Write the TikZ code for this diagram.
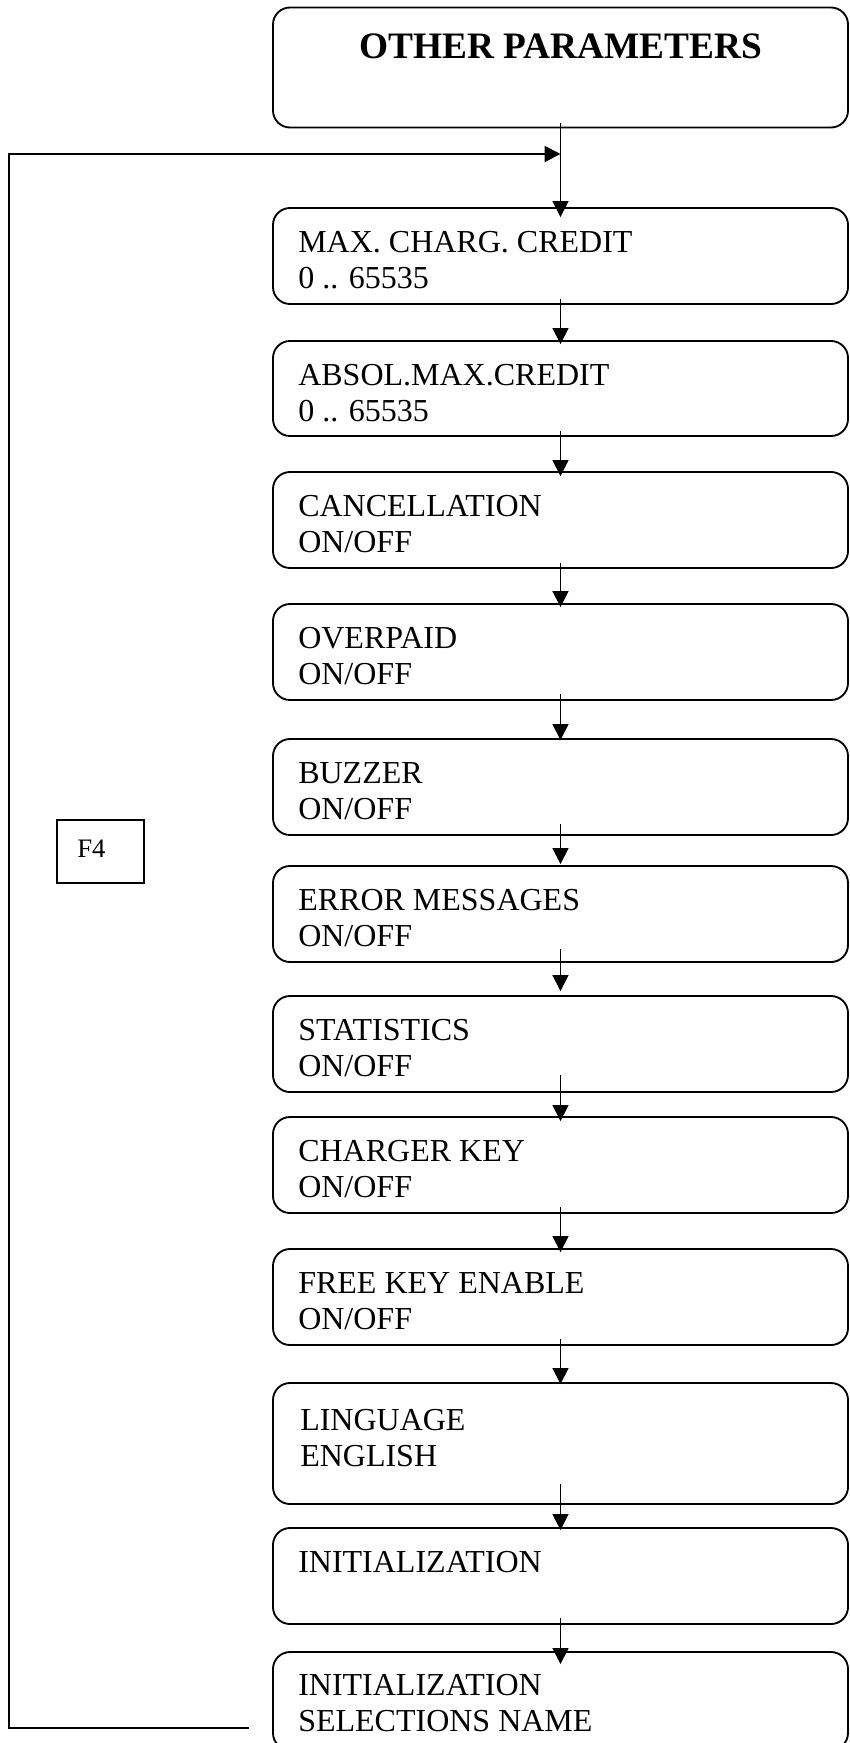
\documentclass[tikz,border=0pt]{standalone}
\usepackage{fontspec}
\setmainfont{Liberation Serif}
\usetikzlibrary{arrows.meta,calc}

\begin{document}
\begin{tikzpicture}[x=0.75pt,y=-0.75pt,
  pbox/.style={draw, line width=1.4pt, rounded corners=12.75pt,
    minimum width=431.25pt, minimum height=72pt, inner sep=0pt},
  txt/.style={anchor=base west, inner sep=0pt, font=\fontsize{24}{27}\selectfont},
  keybox/.style={draw, line width=1.5pt, minimum width=65.25pt, minimum height=47.25pt, inner sep=0pt},
  arr/.style={line width=1pt, -{Triangle[length=12pt,width=12pt]}},
  loopline/.style={line width=1.5pt, -{Triangle[length=12pt,width=12pt]}}
]
\useasboundingbox (0,0) rectangle (850,1743);

% menu boxes
\node[pbox, minimum height=90pt]    (b1)  at (560.5,67.5)  {};
\node[pbox]                          (b2)  at (560.5,256)   {};
\node[pbox, minimum height=71.25pt] (b3)  at (560.5,388.5) {};
\node[pbox]                          (b4)  at (560.5,520)   {};
\node[pbox]                          (b5)  at (560.5,652)   {};
\node[pbox]                          (b6)  at (560.5,787)   {};
\node[pbox]                          (b7)  at (560.5,914)   {};
\node[pbox]                          (b8)  at (560.5,1044)  {};
\node[pbox]                          (b9)  at (560.5,1165)  {};
\node[pbox]                          (b10) at (560.5,1297)  {};
\node[pbox, minimum height=90.75pt] (b11) at (560.5,1443.5) {};
\node[pbox]                          (b12) at (560.5,1576)  {};
\node[pbox, minimum height=73.5pt]  (b13) at (560.5,1701)  {};

% texts
\node[anchor=base, inner sep=0pt, font=\bfseries\fontsize{28}{32}\selectfont] (t1) at (560.5,58) {OTHER PARAMETERS};
\node[txt] (t2a)  at (298,252)  {MAX. CHARG. CREDIT};
\node[txt] (t2b)  at (298,288)  {0 .. 65535};
\node[txt] (t3a)  at (298,385)  {ABSOL.MAX.CREDIT};
\node[txt] (t3b)  at (298,421)  {0 .. 65535};
\node[txt] (t4a)  at (298,516)  {CANCELLATION};
\node[txt] (t4b)  at (298,552)  {ON/OFF};
\node[txt] (t5a)  at (298,648)  {OVERPAID};
\node[txt] (t5b)  at (298,684)  {ON/OFF};
\node[txt] (t6a)  at (298,783)  {BUZZER};
\node[txt] (t6b)  at (298,819)  {ON/OFF};
\node[txt] (t7a)  at (298,910)  {ERROR MESSAGES};
\node[txt] (t7b)  at (298,946)  {ON/OFF};
\node[txt] (t8a)  at (298,1040) {STATISTICS};
\node[txt] (t8b)  at (298,1076) {ON/OFF};
\node[txt] (t9a)  at (298,1161) {CHARGER KEY};
\node[txt] (t9b)  at (298,1197) {ON/OFF};
\node[txt] (t10a) at (298,1293) {FREE KEY ENABLE};
\node[txt] (t10b) at (298,1329) {ON/OFF};
\node[txt] (t11a) at (300,1430) {LINGUAGE};
\node[txt] (t11b) at (300,1466) {ENGLISH};
\node[txt] (t12a) at (298,1572) {INITIALIZATION};
\node[txt] (t13a) at (298,1695) {INITIALIZATION};
\node[txt] (t13b) at (298,1731) {SELECTIONS NAME};

% key box on the return path
\node[keybox] (f4) at (100.5,851) {};
\node[anchor=base west, inner sep=0pt, font=\fontsize{20}{24}\selectfont] (f4t) at (77,857) {F4};

% downward arrows
\draw[arr] ($(b1.south)+(0,-5.5)$) -- ($(b2.north)+(0,10)$);
\draw[arr] ($(b2.south)+(0,-6)$)   -- ($(b3.north)+(0,4)$);
\draw[arr] ($(b3.south)+(0,-6)$)   -- ($(b4.north)+(0,5)$);
\draw[arr] ($(b4.south)+(0,-6)$)   -- ($(b5.north)+(0,4)$);
\draw[arr] ($(b5.south)+(0,-7)$)   -- ($(b6.north)+(0,2)$);
\draw[arr] ($(b6.south)+(0,-12)$)  -- ($(b7.north)+(0,-1)$);
\draw[arr] ($(b7.south)+(0,-14)$)  -- ($(b8.north)+(0,-4)$);
\draw[arr] ($(b8.south)+(0,-18)$)  -- ($(b9.north)+(0,5)$);
\draw[arr] ($(b9.south)+(0,-7)$)   -- ($(b10.north)+(0,4)$);
\draw[arr] ($(b10.south)+(0,-7)$)  -- ($(b11.north)+(0,2)$);
\draw[arr] ($(b11.south)+(0,-21)$) -- ($(b12.north)+(0,3)$);
\draw[arr] ($(b12.south)+(0,-7)$)  -- ($(b13.north)+(0,13)$);

% return path back to the first item
\coordinate (fbstart) at (249,1728);
\coordinate (fbcorner) at (9,154);
\coordinate (fbjoin) at (560.5,154);
\draw[loopline] (fbstart) -| (fbcorner) -- (fbjoin);
\end{tikzpicture}
\end{document}
